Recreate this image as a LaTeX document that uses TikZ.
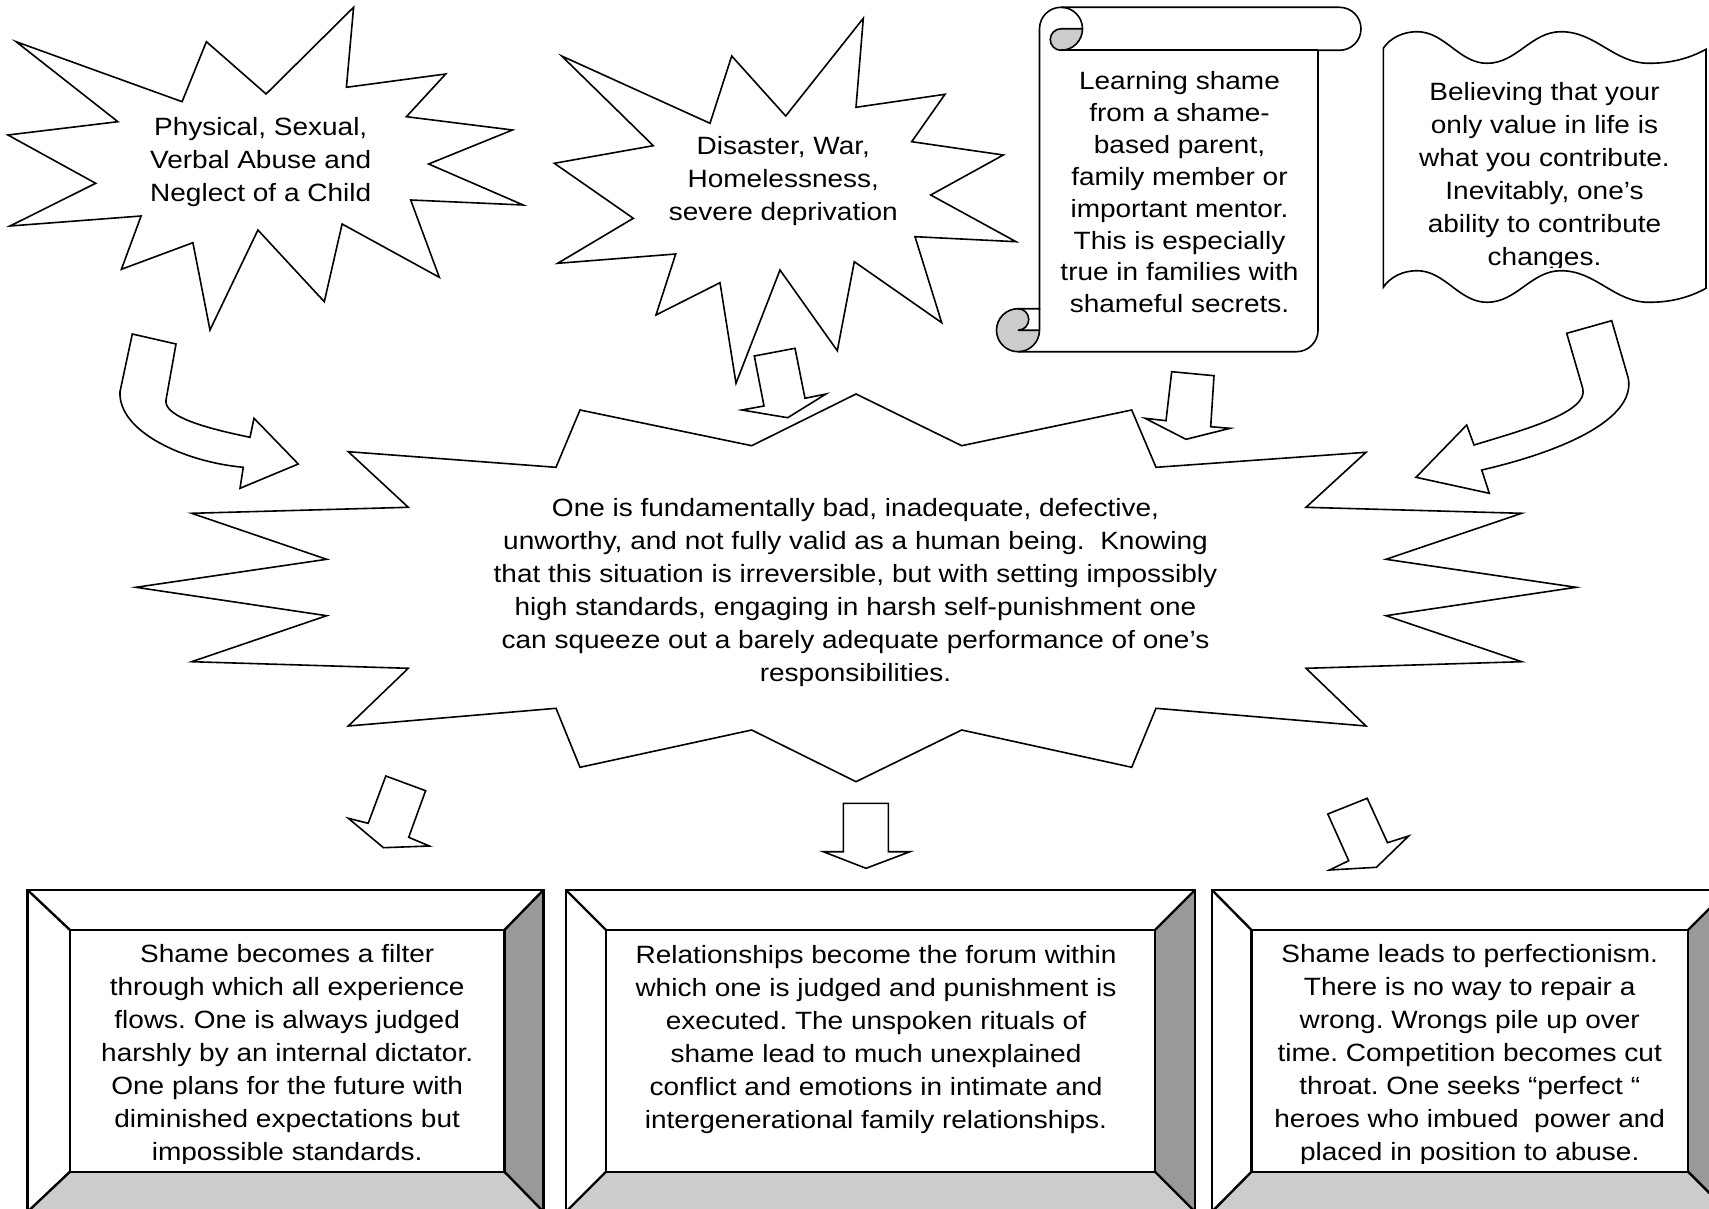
\documentclass[tikz,border=0pt]{standalone}
\usepackage{fontspec}
\setmainfont{Liberation Sans}[FakeStretch=1.12]
\frenchspacing
\definecolor{bevdark}{HTML}{999999}
\definecolor{bevlight}{HTML}{CCCCCC}
\definecolor{curlgrey}{HTML}{CCCCCC}
\begin{document}
\begin{tikzpicture}[x=1pt,y=-1pt,
  outl/.style={draw=black, line width=1.6pt, fill=white, line join=miter},
  thin/.style={draw=black, line width=1.6pt},
  bev/.style={draw=black, line width=2.4pt, line join=miter},
  txt/.style={anchor=north, inner sep=0pt, align=center, font=\fontsize{25}{33}\selectfont\frenchspacing},
  txtscroll/.style={anchor=north, inner sep=0pt, align=center, font=\fontsize{25}{31.9}\selectfont\frenchspacing}]
\useasboundingbox (0,0) rectangle (1709,1209);
\fill[white] (0,0) rectangle (1709,1209);

% ---------- star 1
\draw[outl] (16.1,41.7) -- (182.1,101.7) -- (206.4,41.7) -- (266.1,94) -- (353.6,7.3) -- (346.4,87.3) -- (445.7,74) -- (406.4,116.7) -- (512.5,130) -- (428.6,164) -- (523.2,205) -- (410.7,200) -- (439.3,277.3) -- (342.1,224) -- (324.3,301.7) -- (257.9,230) -- (210,330) -- (192.9,242.7) -- (121.4,269.3) -- (141.1,216) -- (10,226) -- (95.7,183.3) -- (7.9,135) -- (117.9,121.7) -- cycle;
\node[txt] (t1) at (260.7,116.7) {Physical, Sexual,\\Verbal Abuse and\\Neglect of a Child};

% ---------- star 2
\draw[outl] (561.7,56) -- (710,123.3) -- (731.7,56) -- (785.7,116) -- (863.3,18.3) -- (856,107.3) -- (945,94.3) -- (911.7,141.7) -- (1003.3,155) -- (930.7,195) -- (1016,241.7) -- (915,236.7) -- (941.7,322.7) -- (854.3,261.7) -- (837.3,350.7) -- (780,270) -- (736,383.3) -- (720,282.7) -- (656,315) -- (675.7,254) -- (557.7,263.3) -- (633.3,218.3) -- (554.3,163.3) -- (653.3,145.7) -- cycle;
\node[txt] (t2) at (783.3,135.7) {Disaster, War,\\Homelessness,\\severe deprivation};

% ---------- scroll
\fill[white] (1039.5,308.7) -- (1039.5,28.8) arc[start angle=180, delta angle=90, radius=21.5] -- (1339.5,7.3) arc[start angle=270, delta angle=180, radius=21.5] -- (1318,50.3) -- (1318,330.2) arc[start angle=0, delta angle=90, radius=21.5] -- (1018,351.7) arc[start angle=90, delta angle=180, radius=21.5] -- cycle;
\fill[curlgrey] (1082.5,28.8) arc[start angle=0, delta angle=90, radius=21.5] arc[start angle=90, delta angle=180, radius=10.75] -- cycle;
\fill[curlgrey] (1039.5,330.2) arc[start angle=0, delta angle=270, radius=21.5] arc[start angle=270, delta angle=180, radius=10.75] -- cycle;
\draw[thin] (1039.5,308.7) -- (1039.5,28.8) arc[start angle=180, delta angle=90, radius=21.5] -- (1339.5,7.3) arc[start angle=270, delta angle=180, radius=21.5] -- (1318,50.3) -- (1318,330.2) arc[start angle=0, delta angle=90, radius=21.5] -- (1018,351.7) arc[start angle=90, delta angle=180, radius=21.5] -- cycle;
\draw[thin] (1061,7.3) arc[start angle=270, delta angle=180, radius=21.5] arc[start angle=90, delta angle=180, radius=10.75] -- (1082.5,28.8);
\draw[thin] (1318,50.3) -- (1061,50.3);
\draw[thin] (1018,308.7) arc[start angle=270, delta angle=180, radius=10.75] -- (1039.5,330.2);
\draw[thin] (1018,351.7) arc[start angle=90, delta angle=-90, radius=21.5] -- (1039.5,308.7);
\node[txtscroll] (t3) at (1179.5,71.2) {Learning shame\\from a shame-\\based parent,\\family member or\\important mentor.\\This is especially\\true in families with\\shameful secrets.};

% ---------- wave
\draw[outl] (1383.3,48.3) .. controls (1390,38) and (1403,31.7) .. (1417,31.7)
  .. controls (1445,31.7) and (1459,63.3) .. (1487,63.3)
  .. controls (1517,63.3) and (1531,31.7) .. (1561,31.7)
  .. controls (1596,31.7) and (1614,63.3) .. (1649,63.3)
  .. controls (1672,63.3) and (1690,58) .. (1706,49.3)
  -- (1706,288.3)
  .. controls (1690,297) and (1672,302.3) .. (1649,302.3)
  .. controls (1614,302.3) and (1596,270.7) .. (1561,270.7)
  .. controls (1531,270.7) and (1517,302.3) .. (1487,302.3)
  .. controls (1459,302.3) and (1445,270.7) .. (1417,270.7)
  .. controls (1403,270.7) and (1390,277) .. (1383.3,287.3) -- cycle;
\begin{scope}
\clip (1383,40) rectangle (1706,268);
\node[txt] (t4) at (1544.5,81.7) {Believing that your\\only value in life is\\what you contribute.\\Inevitably, one’s\\ability to contribute\\changes.};
\end{scope}

% ---------- big star
\draw[outl] (136,587.3) -- (326.7,559.3) -- (191.7,513.3) -- (408.3,507.3) -- (348.3,451.7) -- (556,467.3) -- (580,410) -- (751.7,445.7) -- (856,394) -- (961.7,445.7) -- (1131.7,410) -- (1156,467.3) -- (1366,452.3) -- (1306,507.3) -- (1521.7,513.3) -- (1386,559.3) -- (1576,587.3) -- (1386,615.7) -- (1521.7,661.7) -- (1306,668.3) -- (1366,726) -- (1156,708.3) -- (1131.7,767.3) -- (961.7,730) -- (856,781.7) -- (751.7,730) -- (580,767.3) -- (556,708.3) -- (348.3,726) -- (408.3,668.3) -- (191.7,661.7) -- (326.7,615.7) -- cycle;
\node[txt] (t5) at (855.5,498.4) {One is fundamentally bad, inadequate, defective,\\unworthy, and not fully valid as a human being.\ \ Knowing\\that this situation is irreversible, but with setting impossibly\\high standards, engaging in harsh self-punishment one\\can squeeze out a barely adequate performance of one’s\\responsibilities.};

% ---------- block arrows
\draw[outl] (132.3,334) -- (176,344) -- (166,400) .. controls (163,418) and (215,430) .. (250,437.3) -- (254,418.3) -- (298.3,464) -- (240,488.3) -- (243.3,467.3) .. controls (185,462) and (118,432) .. (120,391.7) -- cycle;
\draw[outl] (1566.7,333.3) -- (1611.7,320.7) -- (1628.3,378.3) .. controls (1636,420) and (1560,452) .. (1481.7,470) -- (1489.3,493.3) -- (1416,477.3) -- (1466.7,425) -- (1474,445) .. controls (1521.8,430.4) and (1589.7,412.3) .. (1582.7,388.3) -- cycle;
\draw[outl] (754.3,356) -- (795,348.3) -- (805,398.3) -- (826,394) -- (787.7,417.7) -- (741.7,410) -- (764,406) -- cycle;
\draw[outl] (1171.7,371.7) -- (1214,375.7) -- (1210.7,426.7) -- (1230,428.3) -- (1186,439.3) -- (1145,418.3) -- (1166,420.7) -- cycle;
\draw[outl] (385.8,776) -- (425.6,790.7) -- (408.7,837.3) -- (429.4,846) -- (383.5,847.7) -- (348.3,818.3) -- (368.2,823.3) -- cycle;
\draw[outl] (843.3,803.3) -- (888.3,803.3) -- (888.3,851.7) -- (910,851.7) -- (866,868.3) -- (823.3,851.7) -- (843.3,851.7) -- cycle;
\draw[outl] (1327.8,814) -- (1367.2,798.3) -- (1387.5,842.7) -- (1408.7,836) -- (1376.4,867.3) -- (1329.5,870) -- (1348.7,860.7) -- cycle;

% ---------- bevel boxes
\foreach \xa/\xb/\ia/\ib in {27.6/543.4/70/504.4, 566/1195/606/1155, 1212/1728/1251.5/1688} {
  \fill[white] (\xa,890) -- (\xb,890) -- (\ib,930) -- (\ia,930) -- cycle;
  \fill[white] (\xa,890) -- (\ia,930) -- (\ia,1171.7) -- (\xa,1211.7) -- cycle;
  \fill[bevdark] (\xb,890) -- (\xb,1211.7) -- (\ib,1171.7) -- (\ib,930) -- cycle;
  \fill[bevlight] (\xa,1211.7) -- (\ia,1171.7) -- (\ib,1171.7) -- (\xb,1211.7) -- cycle;
  \fill[white] (\ia,930) rectangle (\ib,1171.7);
  \draw[bev] (\xa,890) rectangle (\xb,1211.7);
  \draw[bev] (\ia,930) rectangle (\ib,1171.7);
  \draw[bev] (\xa,890) -- (\ia,930) (\xb,890) -- (\ib,930) (\xa,1211.7) -- (\ia,1171.7) (\xb,1211.7) -- (\ib,1171.7);
}
\begin{scope}
\clip (70,935) rectangle (504.4,1163);
\node[txt] (t6) at (287.2,944.4) {Shame becomes a filter\\through which all experience\\flows. One is always judged\\harshly by an internal dictator.\\One plans for the future with\\diminished expectations but\\impossible standards.};
\end{scope}
\node[txt] (t7) at (876,945) {Relationships become the forum within\\which one is judged and punishment is\\executed. The unspoken rituals of\\shame lead to much unexplained\\conflict and emotions in intimate and\\intergenerational family relationships.};
\begin{scope}
\clip (1251.5,935) rectangle (1688,1163);
\node[txt] (t8) at (1469.7,944.4) {Shame leads to perfectionism.\\There is no way to repair a\\wrong. Wrongs pile up over\\time. Competition becomes cut\\throat. One seeks “perfect “\\heroes who imbued\ \ power and\\placed in position to abuse.};
\end{scope}
\end{tikzpicture}
\end{document}
